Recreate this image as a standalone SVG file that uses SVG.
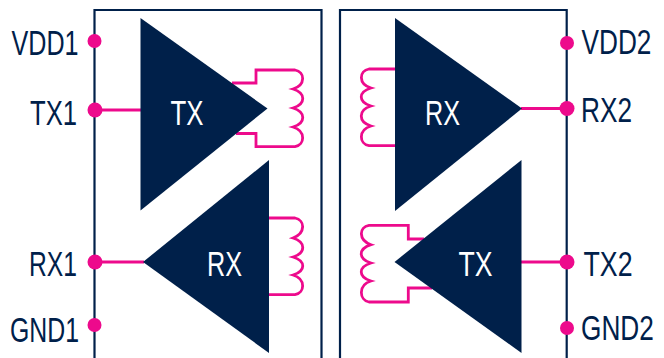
<svg xmlns="http://www.w3.org/2000/svg" width="664" height="358" viewBox="0 0 664 358">
<style>
.box{fill:none;stroke:#00204a;stroke-width:2.2}
.tri{fill:#00204a}
.w{fill:none;stroke:#ed0a8c;stroke-width:2.8}
.dot{fill:#ed0a8c}
text{font-family:"Liberation Sans",Arial,sans-serif;font-size:34.5px}
.lab{fill:#00204a}
.in{fill:#fff}
</style>
<rect width="664" height="358" fill="#fff"/>
<g id="chip1"><path class="box" d="M94.5 358V10H321.5V358"/></g>
<g id="chip2"><path class="box" d="M340 358V10H566.7V358"/></g>
<g id="connectors">
<path class="w" d="M95 110H141"/>
<path class="w" d="M232 83H256V70H295C305 72 306 85 293 89C306 93 306 104 293 108C306 112 306 123 293 127C306 131 305 145 295 146.7H256V133.5H236"/>
<path class="w" d="M95 262H144"/>
<path class="w" d="M269 218H295C305 220 306 233 293 238C306 242 306 253 293 257C306 261 306 271 293 275C306 279 305 293 295 294.7H269"/>
<path class="w" d="M395 69H369C359 71 358 84 371 88C358 92 358 102 371 106C358 110 358 122 371 126C358 130 359 144 369 145.7H395"/>
<path class="w" d="M521 108.5H567"/>
<path class="w" d="M424 239H408.3V225.3H369C359 227 358 240 371 244.7C358 249 358 259 371 263C358 267 358 277 371 281C358 285 359 300 369 302H408.3V288H432"/>
<path class="w" d="M521 262H567"/>
</g>
<g id="tx1"><path class="tri" d="M140.5 18L267.5 108.5L140.5 210.5Z"/><text class="in" x="170.5" y="125" textLength="33" lengthAdjust="spacingAndGlyphs">TX</text></g>
<g id="rx1"><path class="tri" d="M143 262L269 160V353Z"/><text class="in" x="207" y="276" textLength="35" lengthAdjust="spacingAndGlyphs">RX</text></g>
<g id="rx2"><path class="tri" d="M395 18L522 108.5L395 211Z"/><text class="in" x="425" y="125" textLength="35" lengthAdjust="spacingAndGlyphs">RX</text></g>
<g id="tx2"><path class="tri" d="M394.5 262L521.5 160V353Z"/><text class="in" x="458.5" y="275.5" textLength="34" lengthAdjust="spacingAndGlyphs">TX</text></g>
<g id="vdd1"><circle class="dot" cx="94.5" cy="41" r="7"/><text class="lab" x="11.5" y="55" textLength="67" lengthAdjust="spacingAndGlyphs">VDD1</text></g>
<g id="tx1pin"><circle class="dot" cx="95" cy="110" r="7.5"/><text class="lab" x="30" y="124.5" textLength="47" lengthAdjust="spacingAndGlyphs">TX1</text></g>
<g id="rx1pin"><circle class="dot" cx="95" cy="262" r="7.5"/><text class="lab" x="29" y="276" textLength="48" lengthAdjust="spacingAndGlyphs">RX1</text></g>
<g id="gnd1"><circle class="dot" cx="94.5" cy="325" r="7"/><text class="lab" x="10" y="341.5" textLength="69" lengthAdjust="spacingAndGlyphs">GND1</text></g>
<g id="vdd2"><circle class="dot" cx="567" cy="43" r="7"/><text class="lab" transform="translate(581.5 54) scale(.76 1)">VDD2</text></g>
<g id="rx2pin"><circle class="dot" cx="567" cy="108.5" r="7.5"/><text class="lab" x="581" y="121.5" textLength="51" lengthAdjust="spacingAndGlyphs">RX2</text></g>
<g id="tx2pin"><circle class="dot" cx="567" cy="262" r="7.5"/><text class="lab" x="583.5" y="276" textLength="49" lengthAdjust="spacingAndGlyphs">TX2</text></g>
<g id="gnd2"><circle class="dot" cx="567" cy="328" r="7"/><text class="lab" transform="translate(581 339.5) scale(.76 1)">GND2</text></g>
</svg>
